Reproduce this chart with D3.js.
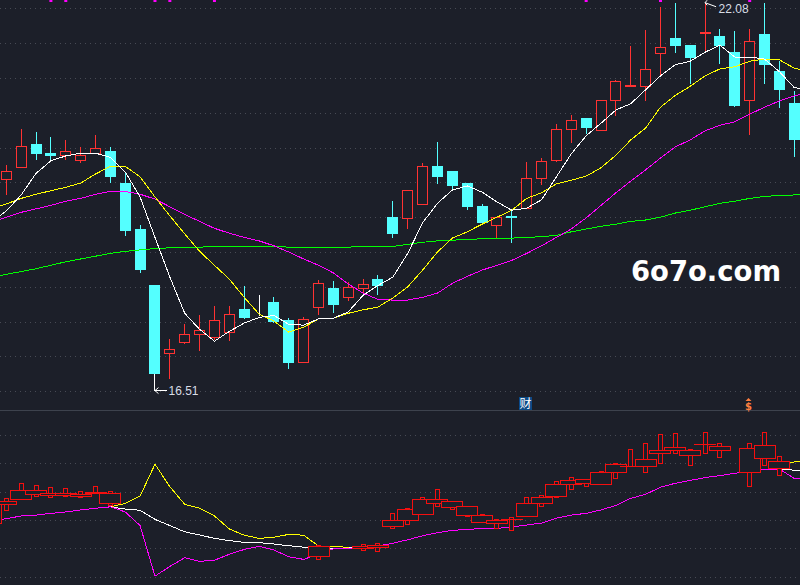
<!DOCTYPE html>
<html>
<head>
<meta charset="utf-8">
<style>
  html, body { margin: 0; padding: 0; background: #1c1f29; overflow: hidden; }
  svg { display: block; }
  .grid line { stroke: #474a54; stroke-width: 1; stroke-dasharray: 1 4; shape-rendering: crispEdges; }
  .grid path { display: none; }
  .ma { fill: none; stroke-width: 1; shape-rendering: crispEdges; }
  .note { font-family: "Liberation Sans", Arial, sans-serif; font-size: 12px; fill: #d8dde6; }
</style>
</head>
<body>
<div id="chart"></div>
<script src="https://cdn.jsdelivr.net/npm/d3@7"></script>
<script>
var width = 800,
    height = 585;

// daily prices, 54 visible days
var open = [19.54,19.72,20.04,19.92,19.88,19.81,19.92,19.94,19.49,18.83,18.02,17.04,17.20,17.31,17.27,17.34,17.68,17.75,17.78,17.51,16.92,17.71,17.98,17.84,17.97,18.10,18.99,18.98,19.18,19.73,19.66,19.49,19.16,18.88,19.01,19.12,19.55,19.81,20.26,20.42,20.24,20.67,20.87,20.87,21.35,21.56,21.46,21.64,21.59,21.36,20.67,21.63,21.09,20.63];
var close = [19.66,20.02,19.91,19.88,19.95,19.89,19.99,19.59,18.81,18.25,16.75,17.10,17.32,17.37,17.52,17.60,17.56,17.75,17.50,16.92,17.53,18.05,17.75,17.99,18.03,18.02,18.77,19.39,19.73,19.59,19.46,19.16,18.93,19.00,19.00,19.56,19.80,20.26,20.39,20.29,20.68,20.95,20.89,21.12,21.44,21.47,21.29,21.65,21.47,20.61,21.53,21.19,20.83,20.11];
var high = [19.75,20.27,20.22,20.15,20.11,20.01,20.18,20.01,19.65,18.89,18.02,17.25,17.46,17.59,17.72,17.72,18.01,17.88,17.85,17.55,17.56,18.10,18.08,18.07,18.11,18.17,19.23,19.39,19.78,20.08,19.66,19.49,19.19,19.00,19.10,19.79,19.85,20.34,20.47,20.42,20.68,20.97,21.46,21.69,22.02,22.07,21.47,22.08,21.70,21.67,21.70,22.07,21.24,20.81];
var low = [19.32,19.71,19.82,19.80,19.82,19.78,19.92,19.49,18.73,18.20,16.51,16.67,17.18,17.08,17.23,17.22,17.54,17.58,17.48,16.82,16.90,17.59,17.62,17.79,17.91,17.88,18.70,18.83,19.18,19.48,19.38,19.10,18.92,18.70,18.63,19.12,19.46,19.79,20.07,20.19,20.24,20.45,20.87,20.67,21.03,21.36,20.91,21.36,21.20,20.58,20.18,20.91,20.57,19.86];

// moving averages, one day before and one day after the visible ones
var ma5 = [18.93,19.09,19.32,19.63,19.81,19.88,19.92,19.92,19.86,19.65,19.29,18.71,18.14,17.62,17.39,17.22,17.36,17.48,17.56,17.59,17.46,17.45,17.54,17.55,17.64,17.88,18.02,18.14,18.48,18.92,19.20,19.39,19.45,19.36,19.22,19.10,19.13,19.25,19.58,19.91,20.17,20.35,20.54,20.63,20.83,21.03,21.19,21.24,21.37,21.47,21.30,21.30,21.27,21.09,20.86,20.83];
var ma10 = [19.12,19.19,19.27,19.33,19.38,19.43,19.49,19.62,19.73,19.73,19.58,19.29,19.02,18.76,18.51,18.31,18.11,17.85,17.61,17.51,17.35,17.42,17.54,17.55,17.62,17.67,17.71,17.84,18.00,18.24,18.50,18.70,18.79,18.90,19.00,19.10,19.27,19.35,19.48,19.53,19.59,19.71,19.89,20.11,20.28,20.58,20.75,20.88,21.03,21.13,21.16,21.24,21.27,21.26,21.14,21.09];
var ma20 = [18.93,19.00,19.07,19.12,19.17,19.23,19.27,19.33,19.37,19.37,19.33,19.26,19.15,19.04,18.94,18.84,18.77,18.71,18.66,18.59,18.50,18.40,18.31,18.20,18.04,17.91,17.82,17.81,17.81,17.85,17.91,18.05,18.15,18.24,18.31,18.38,18.48,18.59,18.71,18.83,18.99,19.17,19.35,19.52,19.68,19.85,20.01,20.11,20.24,20.32,20.37,20.48,20.58,20.67,20.74,20.80];
var ma60 = [18.13,18.18,18.22,18.26,18.31,18.36,18.40,18.44,18.48,18.51,18.53,18.55,18.56,18.56,18.57,18.58,18.58,18.58,18.58,18.58,18.57,18.57,18.57,18.57,18.57,18.58,18.58,18.58,18.61,18.64,18.66,18.67,18.68,18.69,18.69,18.70,18.71,18.72,18.74,18.79,18.83,18.87,18.90,18.94,18.96,19.00,19.06,19.10,19.15,19.20,19.23,19.27,19.30,19.31,19.32,19.33];

var priceTicks = [16.5,17,17.5,18,18.5,19,19.5,20,20.5,21,21.5,22];
var signalDays = [3,4,10,11,14,39,44,50];

// lower indicator, from the day before the first visible one
var wideTop = [15.6,16.5,20.4,20.4,19.4,19.4,18.9,19.7,19.2,null,null,null,null,null,null,null,null,null,null,null,null,null,0.7,null,null,0.7,1.1,9.9,13.7,17.2,17.2,16.5,14.8,11.6,9.9,10.2,15.8,18.0,22.5,23.9,24.3,26.8,29.6,28.9,31.3,34.5,35.6,34.5,36.6,35.9,null,35.2,36.3,30.6,null];
var wideBottom = [8.7,15.3,17.2,18.9,18.5,18.7,18.2,19.2,15.7,null,null,null,null,null,null,null,null,null,null,null,null,null,-3.0,null,null,0.0,0.4,7.6,9.9,11.8,15.8,14.3,11.5,9.2,8.7,10.1,11.1,15.8,18.2,22.5,22.7,22.4,26.8,28.7,28.9,33.4,34.5,32.7,36.5,34.5,null,26.8,31.7,28.2,null];
var narrowTop = [15.6,17.6,22.9,22.2,21.5,21.1,20.1,21.8,20.1,null,null,null,null,null,null,null,null,null,null,null,null,null,0.9,null,null,1.4,1.8,12.3,14.1,18.0,20.8,16.5,14.8,12.0,10.2,10.9,18.0,18.7,23.6,25.0,24.3,27.1,29.9,34.8,37.0,40.1,40.5,34.8,40.8,37.0,null,37.0,40.8,32.4,null];
var narrowBottom = [8.7,13.2,19.5,18.2,17.8,18.2,17.8,19.6,15.0,null,null,null,null,null,null,null,null,null,null,null,null,null,-3.9,null,null,-0.8,-1.2,6.9,8.4,14.9,14.6,13.7,11.1,9.2,6.9,6.2,13.5,14.6,17.8,20.6,21.7,24.0,24.6,28.9,26.8,29.9,33.4,29.2,33.4,32.0,null,21.7,29.2,25.6,null];

// indicator lines, from one day before to one day after the visible ones
var fast = [null,null,null,null,null,null,null,null,14.6,15.8,18.4,29.6,21.7,15.5,14.1,11.4,6.8,4.6,3.5,3.9,4.9,4.6,0.8,0.7,0.3,0.3,null,null,null,null,null,null,null,null,null,null,null,null,null,null,null,null,null,null,null,null,null,null,null,null,null,null,null,30.0,30.4,30.6];
var mid = [null,null,null,null,null,null,null,null,14.6,13.8,13.4,10.2,8.0,5.8,4.7,3.5,2.7,2.1,2.0,1.5,0.9,0.4,0.1,0.0,0.1,0.3,null,null,null,null,null,null,null,null,null,null,null,null,null,null,null,null,null,null,null,null,null,null,null,null,null,null,null,27.9,27.5,27.4];
var slow = [9.8,10.4,11.4,11.7,12.3,12.8,13.5,14.1,14.6,12.8,8.0,-9.8,-6.4,-3.3,-4.6,-4.2,-2.1,-0.4,0.7,-0.6,-3.0,-3.9,-2.0,-0.2,-0.1,0.1,0.8,1.8,3.0,4.4,5.5,6.3,6.7,6.9,7.0,7.5,8.2,8.9,10.6,11.7,12.3,13.5,15.1,17.6,19.0,21.5,22.9,23.9,24.9,25.6,26.4,27.2,27.8,27.9,24.6,24.6];
var oscTicks = [-10,0,10,20,30,40];

var bg = "#1c1f29", red = "#ff3232", cyan = "#54ffff", boxRed = "#f40f0f";

var svg = d3.select("#chart")
    .append("svg")
    .attr("width", width)
    .attr("height", height);

var x = d3.scaleLinear().domain([0, 53]).range([6.3, 794.3]);
var y = d3.scaleLinear().domain([16.5, 22]).range([391.3, 8.3]);
var yOsc = d3.scaleLinear().domain([-10, 40]).range([576.7, 434.7]);

/* Grids */
svg.append("g").attr("class", "grid")
    .call(d3.axisRight(y).tickValues(priceTicks).tickSize(width).tickFormat(""));
svg.append("g").attr("class", "grid")
    .call(d3.axisRight(yOsc).tickValues(oscTicks).tickSize(width).tickFormat(""));

svg.append("line")
    .attr("x1", 0).attr("x2", width)
    .attr("y1", 410.5).attr("y2", 410.5)
    .style("stroke", "#3d424d");

/* Candles */
function candleColor(i) {
    if (close[i] > open[i]) return red;
    if (close[i] < open[i]) return cyan;
    return "#ffffff";
}

var candle = svg.append("g").selectAll("g")
    .data(open)
    .enter().append("g")
    .attr("shape-rendering", "crispEdges");

candle.append("line")
    .attr("x1", function(d, i) { return x(i); })
    .attr("x2", function(d, i) { return x(i); })
    .attr("y1", function(d, i) { return y(high[i]); })
    .attr("y2", function(d, i) { return y(low[i]); })
    .style("stroke", function(d, i) { return candleColor(i); });

candle.append("rect")
    .attr("x", function(d, i) { return x(i) - 5; })
    .attr("width", 10)
    .attr("y", function(d, i) { return y(Math.max(open[i], close[i])); })
    .attr("height", function(d, i) { return Math.abs(y(open[i]) - y(close[i])); })
    .style("fill", function(d, i) { return close[i] > open[i] ? bg : candleColor(i); })
    .style("stroke", function(d, i) { return candleColor(i); });

/* Moving averages */
function priceLine(values, color) {
    var line = d3.line()
        .defined(function(d) { return d !== null; })
        .x(function(d, i) { return x(i - 1); })
        .y(function(d) { return y(d); });
    svg.append("path").attr("class", "ma").attr("d", line(values)).style("stroke", color);
}
priceLine(ma60, "#00ff00");
priceLine(ma20, "#ff00ff");
priceLine(ma10, "#ffff00");
priceLine(ma5, "#ffffff");

/* Signal marks on the top edge */
svg.append("g").selectAll("rect")
    .data(signalDays)
    .enter().append("rect")
    .attr("x", function(d) { return x(d) - 1.5; })
    .attr("y", 0)
    .attr("width", 3)
    .attr("height", 2)
    .style("fill", "#ff00ff");

/* High and low notes */
svg.append("path")
    .attr("d", "M" + x(10) + "," + y(16.75) + "V" + y(16.51) + "h12")
    .style("fill", "none").style("stroke", "#ffffff").attr("shape-rendering", "crispEdges");
svg.append("path")
    .attr("d", "M" + (x(10) + 3.5) + "," + (y(16.51) - 3) + "l-3.5,3l3.5,3")
    .style("fill", "none").style("stroke", "#ffffff");
svg.append("text").attr("class", "note")
    .attr("x", x(10) + 13.5).attr("y", y(16.51) + 4.5).text("16.51");

svg.append("path")
    .attr("d", "M" + x(47) + "," + y(22.08) + "l11,4")
    .style("fill", "none").style("stroke", "#ffffff");
svg.append("path")
    .attr("d", "M" + (x(47) + 2) + "," + (y(22.08) - 2.5) + "l-2,2.5l2,2.5")
    .style("fill", "none").style("stroke", "#ffffff");
svg.append("text").attr("class", "note")
    .attr("x", x(47) + 13.5).attr("y", y(22.08) + 10).text("22.08");

/* Event tags */
svg.append("rect")
    .attr("x", 519).attr("y", 397).attr("width", 13).attr("height", 13)
    .style("fill", "#0b4a86");
svg.append("text")
    .attr("x", 525.5).attr("y", 408)
    .attr("text-anchor", "middle")
    .style("font-family", "'Noto Sans CJK SC'")
    .style("font-size", "12px")
    .style("fill", "#ffffff")
    .text("财");

svg.append("path").attr("d", "M748.5,398l3,3h-6z").style("fill", "#ff7f3f");
svg.append("text")
    .attr("x", 748.5).attr("y", 409.5)
    .attr("text-anchor", "middle")
    .style("font-family", "'DejaVu Sans'")
    .style("font-weight", "bold")
    .style("font-size", "10px")
    .style("fill", "#ff7f3f")
    .text("$");

/* Lower indicator */
function oscLine(values, color) {
    var line = d3.line()
        .defined(function(d) { return d !== null; })
        .x(function(d, i) { return x(i - 1); })
        .y(function(d) { return yOsc(d); });
    svg.append("path").attr("class", "ma").attr("d", line(values)).style("stroke", color);
}
oscLine(fast, "#ffff00");
oscLine(mid, "#ffffff");
oscLine(slow, "#ff00ff");

wideTop.forEach(function(top, i) {
    if (top === null) return;
    var g = svg.append("g").attr("shape-rendering", "crispEdges");
    g.append("rect")
        .attr("x", x(i - 1) - 2)
        .attr("width", 4)
        .attr("y", yOsc(narrowTop[i]))
        .attr("height", yOsc(narrowBottom[i]) - yOsc(narrowTop[i]))
        .style("fill", bg)
        .style("stroke", boxRed);
    g.append("rect")
        .attr("x", x(i - 1) - 10.5)
        .attr("width", 21)
        .attr("y", yOsc(top))
        .attr("height", yOsc(wideBottom[i]) - yOsc(top))
        .style("fill", bg)
        .style("stroke", boxRed);
});

/* Watermark */
svg.append("text")
    .attr("x", 631).attr("y", 281)
    .attr("textLength", 150)
    .attr("lengthAdjust", "spacingAndGlyphs")
    .style("font-family", "'DejaVu Sans'")
    .style("font-weight", "bold")
    .style("font-size", "29px")
    .style("fill", "#ffffff")
    .text("6o7o.com");
</script>
</body>
</html>
